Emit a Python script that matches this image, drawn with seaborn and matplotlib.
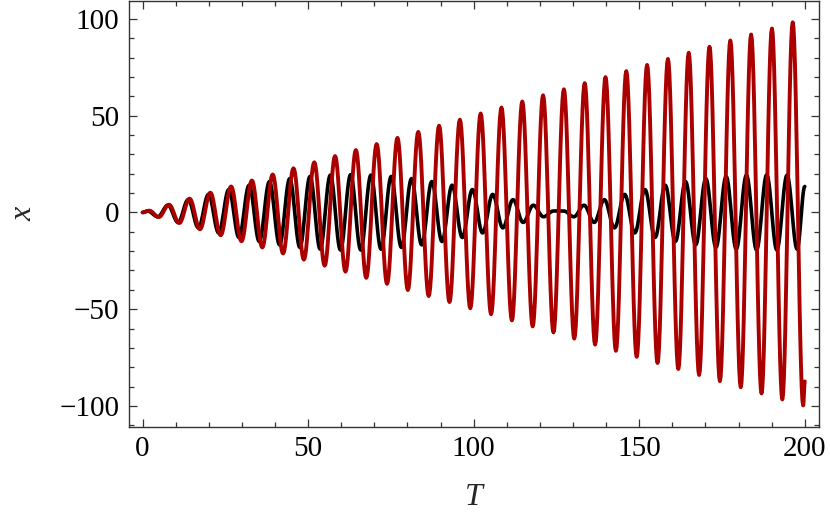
import numpy as np
import pandas as pd
import matplotlib
matplotlib.use("Agg")
import matplotlib.pyplot as plt
import seaborn as sns
from matplotlib.ticker import MultipleLocator

# Turning points: T position and x value
# red: resonant response (amplitude keeps growing)
red_t = [0.0, 2.03, 4.91, 7.98, 11.09, 14.21, 17.34, 20.47, 23.60, 26.74, 29.88,
         33.02, 36.16, 39.30, 42.44, 45.58, 48.72, 51.86, 55.00, 58.14, 61.28,
         64.42, 67.56, 70.70, 73.84, 76.98, 80.12, 83.26, 86.41, 89.55, 92.69,
         95.83, 98.97, 102.11, 105.25, 108.39, 111.54, 114.68, 117.82, 120.96,
         124.10, 127.24, 130.38, 133.53, 136.67, 139.81, 142.95, 146.09, 149.23,
         152.37, 155.52, 158.66, 161.80, 164.94, 168.08, 171.22, 174.36, 177.51,
         180.65, 183.79, 186.93, 190.07, 193.21, 196.35, 199.50, 200.0]
red_x = [0.0, 0.9, -2.4, 4.0, -5.5, 7.1, -8.7, 10.2, -11.8, 13.4, -14.9,
         16.5, -18.1, 19.6, -21.2, 22.8, -24.4, 25.9, -27.5, 29.1, -30.6,
         32.2, -33.8, 35.3, -36.9, 38.5, -40.1, 41.6, -43.2, 44.8, -46.3,
         47.9, -49.5, 51.1, -52.6, 54.2, -55.8, 57.3, -58.9, 60.5,
         -62.0, 63.6, -65.2, 66.8, -68.3, 69.9, -71.5, 73.0, -74.6,
         76.2, -77.8, 79.3, -80.9, 82.5, -84.0, 85.6, -87.2, 88.8,
         -90.3, 91.9, -93.5, 95.0, -96.6, 98.2, -99.7, -87.3]

# black: detuned response (beats)
black_t = [0.0, 1.53, 4.60, 7.66, 10.73, 13.79, 16.86, 19.92, 22.99, 26.05, 29.12,
           32.18, 35.25, 38.31, 41.38, 44.44, 47.51, 50.57, 53.64, 56.70, 59.77,
           62.83, 65.90, 68.96, 72.03, 75.09, 78.16, 81.22, 84.29, 87.35, 90.42,
           93.48, 96.55, 99.61, 102.68, 105.74, 108.81, 111.87, 114.94, 118.00,
           121.07, 124.13, 127.20, 130.26, 133.33, 136.39, 139.46, 142.52, 145.59,
           148.65, 151.72, 154.78, 157.85, 160.91, 163.98, 167.04, 170.11, 173.17,
           176.24, 179.30, 182.37, 185.43, 188.50, 191.56, 194.63, 197.69, 200.0]
black_x = [0.0, 0.75, -2.24, 3.72, -5.17, 6.60, -7.98, 9.32, -10.61, 11.83, -12.98,
           14.06, -15.05, 15.96, -16.77, 17.49, -18.10, 18.60, -19.00, 19.28, -19.45,
           19.51, -19.45, 19.28, -19.00, 18.60, -18.10, 17.49, -16.77, 15.96, -15.05,
           14.06, -12.98, 11.83, -10.61, 9.32, -7.98, 6.60, -5.17, 3.72,
           -2.24, 0.75, 0.75, -2.24, 3.72, -5.17, 6.60, -7.98, 9.32,
           -10.61, 11.83, -12.98, 14.06, -15.05, 15.96, -16.77, 17.49, -18.10,
           18.60, -19.00, 19.28, -19.45, 19.51, -19.45, 19.28, -19.00, 13.4]


def smooth(ts, xs, n=14):
    # half-cosine segments between consecutive turning points
    out_t, out_x = [ts[0]], [xs[0]]
    for t0, t1, x0, x1 in zip(ts[:-1], ts[1:], xs[:-1], xs[1:]):
        s = np.linspace(0, 1, n + 1)[1:]
        out_t.extend(t0 + (t1 - t0) * s)
        out_x.extend(x0 + (x1 - x0) * (1 - np.cos(np.pi * s)) / 2)
    return pd.DataFrame({"T": out_t, "x": out_x})


sns.set_style("ticks")
plt.rcParams["font.family"] = ["Liberation Serif", "DejaVu Serif"]
plt.rcParams["axes.edgecolor"] = "#333333"

fig = plt.figure(figsize=(8.3, 5.26), dpi=100)
ax = fig.add_axes([0.1554, 0.1888, 0.831, 0.8092])

sns.lineplot(data=smooth(black_t, black_x), x="T", y="x", color="black",
             linewidth=2.6, estimator=None, ax=ax)
sns.lineplot(data=smooth(red_t, red_x), x="T", y="x", color="#aa0000",
             linewidth=2.8, estimator=None, ax=ax)

ax.set_xlim(-4.1, 204.2)
ax.set_ylim(-110.7, 109.2)
ax.xaxis.set_major_locator(MultipleLocator(50))
ax.xaxis.set_minor_locator(MultipleLocator(10))
ax.yaxis.set_major_locator(MultipleLocator(50))
ax.yaxis.set_minor_locator(MultipleLocator(10))
ax.tick_params(which="both", direction="in", top=True, right=True,
               color="#333333", width=0.9, labelsize=21, labelcolor="black")
ax.tick_params(which="major", length=5.8, pad=7)
ax.tick_params(which="minor", length=3.3)
for sp in ax.spines.values():
    sp.set_linewidth(1.0)

ax.set_xlabel("T", fontsize=23, fontstyle="italic", labelpad=15)
ax.set_ylabel("x", fontsize=23, fontstyle="italic", labelpad=15)

fig.savefig("out.png", dpi=100)
